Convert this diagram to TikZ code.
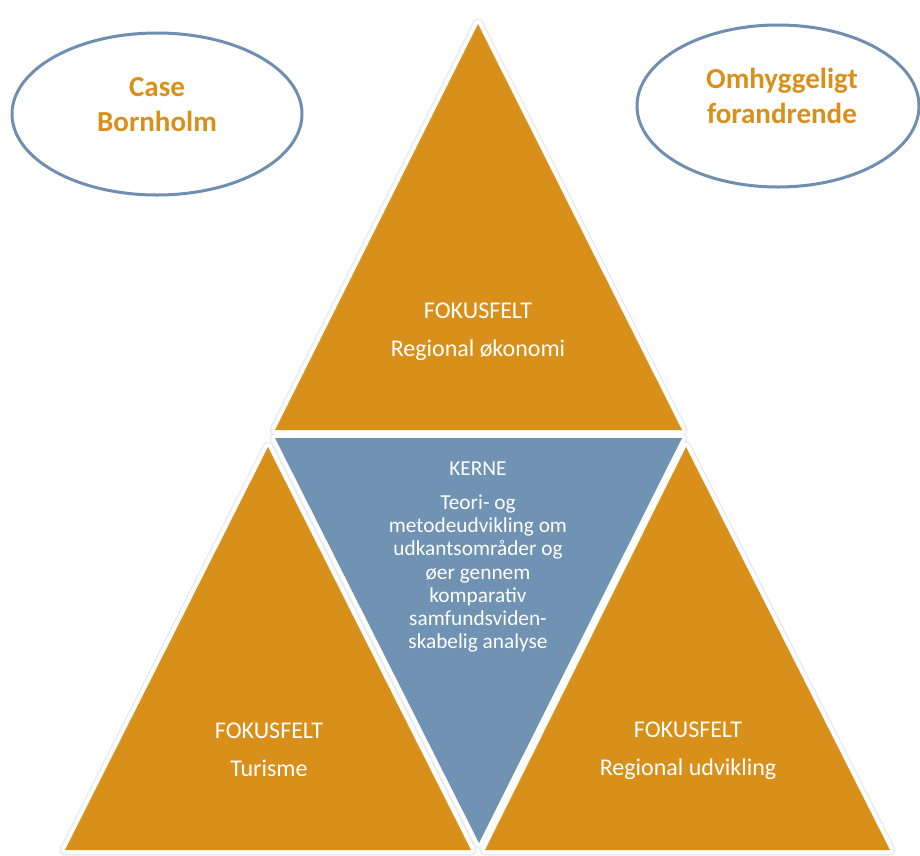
\documentclass[tikz,border=0pt]{standalone}
\usepackage{fontspec}
\setmainfont{Carlito}
\definecolor{fokus}{HTML}{D8901B}
\definecolor{kerne}{HTML}{7093B3}
\definecolor{ring}{HTML}{6F8FB1}
\begin{document}
\begin{tikzpicture}[x=1pt,y=-1pt,
  shade/.style={draw=black!8,line width=11pt,line join=round},
  gap/.style={draw=white,line width=8pt,line join=round},
  fokusfill/.style={fill=fokus},
  kernefill/.style={fill=kerne},
  ringnode/.style={draw=ring,line width=3pt},
  bigtxt/.style={text=fokus,font=\fontsize{29}{35}\selectfont\bfseries,align=center,inner sep=0pt},
  fokustxt/.style={text=white,font=\fontsize{24}{38}\selectfont,align=center,inner sep=0pt},
  kernetxt/.style={text=white,font=\fontsize{21.3}{23.3}\selectfont,align=center,inner sep=0pt}]
\useasboundingbox (0,0) rectangle (920,855);
% triangle corners
\coordinate (tA) at (478,24);  \coordinate (tB) at (275,430); \coordinate (tC) at (682,430);
\coordinate (kA) at (275,438); \coordinate (kB) at (682,438); \coordinate (kC) at (479,843);
\coordinate (lA) at (268,447); \coordinate (lB) at (65,850);  \coordinate (lC) at (471,850);
\coordinate (rA) at (686,447); \coordinate (rB) at (485,850); \coordinate (rC) at (890,850);
% shadows
\foreach \a/\b/\c in {tA/tB/tC,kA/kB/kC,lA/lB/lC,rA/rB/rC}
  \draw[shade] (\a) -- (\b) -- (\c) -- cycle;
% white gaps
\foreach \a/\b/\c in {tA/tB/tC,kA/kB/kC,lA/lB/lC,rA/rB/rC}
  \draw[gap] (\a) -- (\b) -- (\c) -- cycle;
% fills
\fill[fokusfill] (tA) -- (tB) -- (tC) -- cycle;
\fill[kernefill] (kA) -- (kB) -- (kC) -- cycle;
\fill[fokusfill] (lA) -- (lB) -- (lC) -- cycle;
\fill[fokusfill] (rA) -- (rB) -- (rC) -- cycle;
% ellipses
\draw[ringnode] (157,114) ellipse [x radius=145, y radius=81];
\draw[ringnode] (778,106) ellipse [x radius=141, y radius=81];
\node[bigtxt] (case) at (157,105) {Case\\Bornholm};
\node[bigtxt] (omh) at (782,96) {Omhyggeligt\\forandrende};
% texts
\node[fokustxt] (top) at (478,332) {FOKUSFELT\\Regional økonomi};
\node[fokustxt] (left) at (269,750) {FOKUSFELT\\Turisme};
\node[fokustxt] (right) at (688,751) {FOKUSFELT\\Regional udvikling};
\node[kernetxt] (kerne) at (478,469) {KERNE};
\node[kernetxt] (kernebody) at (478,573.5) {Teori- og\\metodeudvikling om\\udkantsområder og\\øer gennem\\komparativ\\samfundsviden-\\skabelig analyse};
\end{tikzpicture}
\end{document}
